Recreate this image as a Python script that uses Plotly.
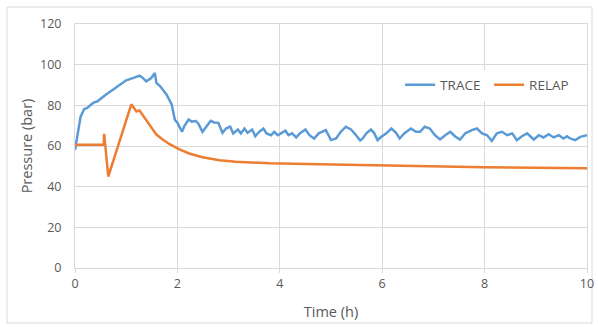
import plotly.graph_objects as go

# TRACE series (time in hours, pressure in bar)
trace_t = [0, 0.05, 0.11, 0.18, 0.24, 0.31, 0.375, 0.44, 0.51, 0.6, 0.74, 0.87, 1.0, 1.13, 1.26,
           1.33, 1.39, 1.49, 1.56, 1.59, 1.66, 1.79, 1.89, 1.95, 2.0, 2.09, 2.13, 2.22, 2.28, 2.36,
           2.41, 2.49, 2.57, 2.65, 2.72, 2.8, 2.88, 2.95, 3.03, 3.09, 3.18, 3.24, 3.31, 3.37, 3.46,
           3.52, 3.6, 3.68, 3.74, 3.83, 3.89, 3.96, 4.02, 4.11, 4.17, 4.24, 4.32, 4.39, 4.5, 4.58,
           4.67, 4.76, 4.9, 5.0, 5.1, 5.19, 5.29, 5.39, 5.49, 5.57, 5.62, 5.69, 5.78, 5.84, 5.91,
           5.98, 6.08, 6.18, 6.27, 6.34, 6.43, 6.56, 6.66, 6.74, 6.83, 6.93, 7.03, 7.13, 7.23, 7.33,
           7.42, 7.52, 7.62, 7.75, 7.85, 7.95, 8.05, 8.14, 8.24, 8.34, 8.44, 8.54, 8.63, 8.73, 8.83,
           8.96, 9.06, 9.15, 9.25, 9.35, 9.45, 9.54, 9.61, 9.67, 9.77, 9.87, 10.0]
trace_p = [58, 66, 74.5, 78.2, 78.7, 80.3, 81.5, 82, 83.6, 85.2, 87.7, 90.2, 92.3, 93.4, 94.6,
           93.4, 91.8, 93.4, 95.9, 91, 89.5, 85.2, 80.3, 72.9, 71.4, 67, 69.5, 73, 72, 72.3,
           71, 67, 69.5, 72.4, 71.6, 71.4, 66.5, 68.6, 69.5, 66.2, 68.1, 66.2, 68.6, 66.5, 68.1,
           64.8, 67, 68.6, 66.2, 65.3, 67, 65.3, 66.2, 67.5, 65.3, 66.2, 64.2, 66.2, 68.1, 65.3,
           63.7, 66.2, 67.8, 62.9, 63.7, 67, 69.5, 68.1, 65.3, 62.7, 63.7, 66.2, 68.1, 66.5, 62.9,
           64.5, 66.2, 68.6, 66.5, 63.7, 66.2, 68.6, 67, 67, 69.5, 68.6, 65.3, 63.2, 65.3, 67,
           64.8, 63.2, 66.2, 67.8, 68.6, 66.2, 65.3, 62.5, 66.2, 67, 65.3, 66.2, 62.9, 64.8, 66.2,
           63.2, 65.3, 64.2, 65.8, 64.2, 65.3, 63.7, 64.8, 63.7, 62.9, 64.5, 65.3]

# RELAP series
relap_t = [0, 0.56, 0.57, 0.65, 1.10, 1.15, 1.2, 1.26, 1.36, 1.46, 1.59, 1.72, 1.84, 2.03, 2.23,
           2.49, 2.82, 3.14, 3.8, 4.77, 5.75, 7.0, 8.0, 9.0, 10.0]
relap_p = [60.6, 60.6, 66, 45, 80.5, 78.5, 77, 77.5, 73.8, 70.5, 65.6, 63.1, 61, 58.5, 56.3,
           54.5, 53, 52.3, 51.5, 51, 50.5, 50, 49.6, 49.3, 49]

x_ticks = [0, 2, 4, 6, 8, 10]
y_ticks = [0, 20, 40, 60, 80, 100, 120]

FONT = "Open Sans"
TXT = "#595959"
GRID = "#D9D9D9"

fig = go.Figure()
fig.add_trace(go.Scatter(x=trace_t, y=trace_p, mode="lines", name="TRACE",
                         line=dict(color="#5B9BD5", width=2.5)))
fig.add_trace(go.Scatter(x=relap_t, y=relap_p, mode="lines", name="RELAP",
                         line=dict(color="#ED7D31", width=2.5)))

fig.update_layout(
    width=598, height=327, autosize=False,
    margin=dict(l=75, r=11, t=24, b=59),
    paper_bgcolor="white", plot_bgcolor="white",
    font=dict(family=FONT, size=12, color=TXT),
    showlegend=True,
    legend=dict(orientation="h", x=0.635, y=0.75, xanchor="left", yanchor="middle",
                bgcolor="white", font=dict(size=13.5, color=TXT), itemwidth=30,
                entrywidth=44, entrywidthmode="pixels"),
    xaxis=dict(range=[0, 10], tickvals=x_ticks, showgrid=True, gridcolor=GRID, gridwidth=1,
               showline=True, linecolor=GRID, linewidth=1, mirror=True, automargin=False,
               ticks="outside", ticklen=4, tickcolor=GRID, zeroline=False,
               title=dict(text="Time (h)", font=dict(size=14.5, color=TXT), standoff=15),
               tickfont=dict(size=12.5, color=TXT)),
    yaxis=dict(range=[0, 120], tickvals=y_ticks, showgrid=True, gridcolor=GRID, gridwidth=1,
               showline=True, linecolor=GRID, linewidth=1, mirror=True, zeroline=False,
               automargin=False, ticks="", ticklabelstandoff=10,
               title=dict(text="Pressure (bar)", font=dict(size=14.5, color=TXT), standoff=3),
               tickfont=dict(size=12.5, color=TXT)),
)

fig.add_shape(type="rect", xref="paper", yref="paper",
              x0=-0.1328, x1=1.0098, y0=-0.2254, y1=1.0697,
              line=dict(color="#D9D9D9", width=1), layer="below")

fig.write_html("out.html",
               config=dict(responsive=False, displayModeBar=False),
               post_script="document.body.style.margin='0';document.body.style.overflow='hidden';")
